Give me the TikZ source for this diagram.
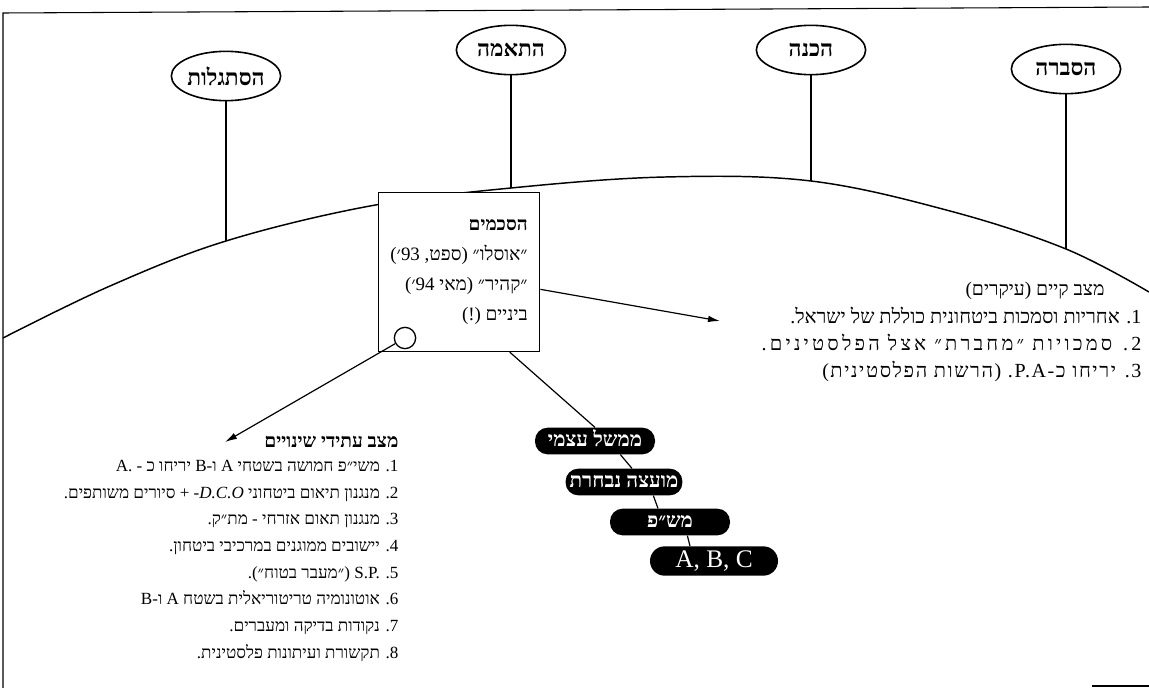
\documentclass[tikz,border=0pt]{standalone}
\usepackage{fontspec}
\setmainfont{Liberation Serif}
\newfontfamily\hebfont[Script=Hebrew]{Liberation Serif}
\TeXXeTstate=1
\usetikzlibrary{arrows.meta}
\usetikzlibrary{positioning}
\usetikzlibrary{shapes.geometric}

\newcommand{\heb}[1]{\beginR #1\endR}

\begin{document}
\begin{tikzpicture}
    [x=0.75pt, y=-0.75pt,
     phase/.style={ellipse, draw, line width=1.2pt, fill=white, minimum width=82pt, minimum height=37pt, inner xsep=-12pt, inner ysep=-4pt, font=\hebfont\bfseries\fontsize{17}{20}\selectfont},
     pole/.style={line width=0.9pt},
     hill/.style={line width=1.1pt},
     pact/.style={rectangle, draw, line width=1.1pt, fill=white, minimum width=121pt, minimum height=119pt, align=right, inner sep=5pt, font=\hebfont\fontsize{14.2}{22.5}\selectfont},
     chip/.style={rectangle, rounded corners=9.5pt, fill=black, text=white, minimum width=90pt, minimum height=20pt, inner xsep=3pt, inner ysep=0pt, text height=11pt, text depth=3pt, font=\hebfont\bfseries\fontsize{15.5}{18}\selectfont},
     nowitem/.style={anchor=east, inner sep=1pt, text height=11pt, text depth=3.5pt, font=\hebfont\fontsize{15}{18}\selectfont},
     futitem/.style={anchor=east, inner sep=1pt, text height=9.5pt, text depth=3pt, font=\hebfont\fontsize{12.8}{15}\selectfont},
     pointer/.style={-{Latex[length=9pt, width=5pt]}, line width=0.9pt},
     link/.style={line width=0.9pt}]

    \useasboundingbox (0,0) rectangle (1149,688);

    % frame
    \draw [line width=0.8pt] (3,688) -- (3,13) -- (1149,7);
    \draw [line width=0.8pt] (1092,686) -- (1149,686);

    % stages on the hill
    \node [phase] (st1) at (226,76) {\heb{הסתגלות}};
    \node [phase] (st2) at (511,50) {\heb{התאמה}};
    \node [phase] (st3) at (811,50) {\heb{הכנה}};
    \node [phase] (st4) at (1066,69) {\heb{הסברה}};

    \coordinate (c1) at (226,241);
    \coordinate (c2) at (511,188);
    \coordinate (c3) at (811,181);
    \coordinate (c4) at (1066,249);

    \draw [hill] plot [smooth, tension=0.6] coordinates {(3,338) (110,286) (c1) (370,206) (c2) (665,177) (c3) (950,211) (c4) (1149,292)};

    \draw [pole] (st1) -- (c1);
    \draw [pole] (st2) -- (c2);
    \draw [pole] (st3) -- (c3);
    \draw [pole] (st4) -- (c4);

    % agreements box
    \node [pact] (pact) at (459,272) {
	{\bfseries\heb{הסכמים}}\\
	\heb{״אוסלו״ (ספט, 93׳)}\\
	\heb{״קהיר״ (מאי 94׳)}\\
	\heb{ביניים (!)}
    };
    \node [circle, draw, line width=1pt, fill=white, minimum size=16pt, inner sep=0pt] (knob) at (405,338) {};

    % present state
    \node [font=\hebfont\fontsize{14.5}{17}\selectfont, inner sep=1pt] (now0) at (1035,291) {\heb{מצב קיים (עיקרים)}};
    \node [nowitem] (now1) at (1143,318) {\heb{1. אחריות וסמכות ביטחונית כוללת של ישראל.}};
    \node [nowitem, below=20.25pt of now1.east, anchor=east, font=\hebfont\fontsize{15}{18}\addfontfeature{LetterSpace=16}\selectfont] (now2) {\heb{2. סמכויות ״מחברת״ אצל הפלסטינים.}};
    \node [nowitem, below=20.25pt of now2.east, anchor=east, font=\hebfont\fontsize{15}{18}\addfontfeature{LetterSpace=8}\selectfont] (now3) {\heb{3. יריחו כ-P.A. (הרשות הפלסטינית)}};

    % future state
    \node [futitem, font=\hebfont\bfseries\fontsize{14.4}{17}\selectfont] (fut0) at (400,443) {\heb{מצב עתידי שינויים}};
    \node [futitem, below=18pt of fut0.east, anchor=east] (fut1) {\heb{1. משי״פ חמושה בשטחי A ו-B יריחו כ - A.}};
    \node [futitem, below=20pt of fut1.east, anchor=east] (fut2) {\heb{2. מנגנון תיאום ביטחוני {\itshape -D.C.O} + סיורים משותפים.}};
    \node [futitem, below=20pt of fut2.east, anchor=east] (fut3) {\heb{3. מנגנון תאום אזרחי - מת״ק.}};
    \node [futitem, below=20pt of fut3.east, anchor=east] (fut4) {\heb{4. יישובים ממוגנים במרכיבי ביטחון.}};
    \node [futitem, below=20pt of fut4.east, anchor=east] (fut5) {\heb{5. S.P. (״מעבר בטוח״).}};
    \node [futitem, below=20pt of fut5.east, anchor=east] (fut6) {\heb{6. אוטונומיה טריטוריאלית בשטח A ו-B}};
    \node [futitem, below=20pt of fut6.east, anchor=east] (fut7) {\heb{7. נקודות בדיקה ומעברים.}};
    \node [futitem, below=20pt of fut7.east, anchor=east] (fut8) {\heb{8. תקשורת ועיתונות פלסטינית.}};

    % self rule chain
    \node [chip] (ms1) at (595,441) {\heb{ממשל עצמי}};
    \node [chip, minimum width=86pt] (ms2) at (624,482) {\heb{מועצה נבחרת}};
    \node [chip] (ms3) at (670,522) {\heb{מש״פ}};
    \node [chip, minimum width=96pt, minimum height=22pt, rounded corners=11pt, text height=13pt, text depth=3.5pt, font=\mdseries\fontsize{19}{21}\selectfont] (ms4) at (714,561) {A, B, C};

    \coordinate (nowtip) at (720,321);
    \coordinate (futtip) at (225,442);

    \draw [pointer] ([yshift=-13pt]pact.east) -- (nowtip);
    \draw [pointer] (knob) -- (futtip);

    \draw [link] ([xshift=38pt]pact.south) -- (ms1.north);
    \draw [link] ([xshift=19pt]ms1.south) -- ([xshift=6pt]ms2.north);
    \draw [link] ([xshift=22pt]ms2.south) -- ([xshift=-9pt]ms3.north);
    \draw [link] ([xshift=13pt]ms3.south) -- ([xshift=-18pt]ms4.north);
\end{tikzpicture}
\end{document}
